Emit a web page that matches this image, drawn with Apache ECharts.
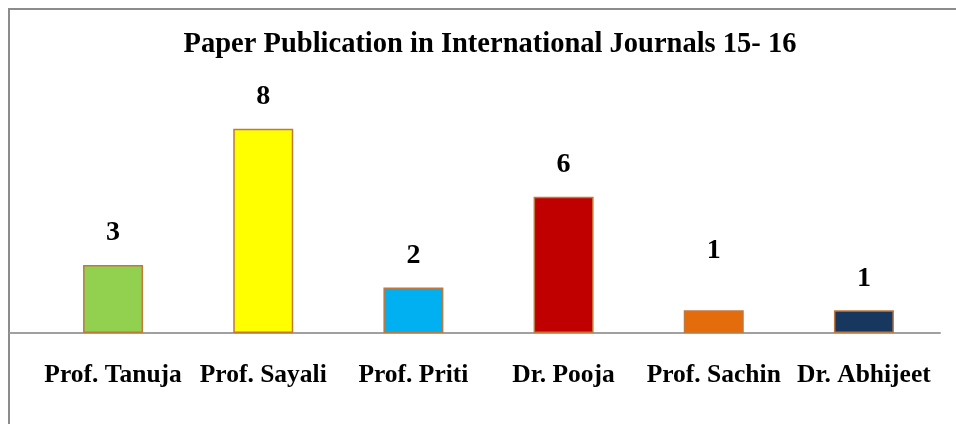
<!DOCTYPE html>
<html>
<head>
<meta charset="utf-8">
<script src="https://cdn.jsdelivr.net/npm/echarts@6/dist/echarts.min.js"></script>
<style>
html, body { margin: 0; padding: 0; background: #fff; }
#chart { width: 956px; height: 424px; }
</style>
</head>
<body>
<div id="chart"></div>
<script>
var names = ['Prof. Tanuja', 'Prof. Sayali', 'Prof. Priti', 'Dr. Pooja', 'Prof. Sachin', 'Dr. Abhijeet'];
// printed labels
var counts = [3, 8, 2, 6, 1, 1];
// bar heights as drawn (the Sayali bar is drawn taller than its label)
var heights = [3, 9, 2, 6, 1, 1];
var colors = ['#92D050', '#FFFF00', '#00B0F0', '#C00000', '#E46C0A', '#17375E'];

var font = '"Liberation Serif", "Times New Roman", serif';

var barData = [];
for (var i = 0; i < names.length; i++) {
    var item = {
        value: heights[i],
        itemStyle: { color: colors[i] },
        label: { formatter: String(counts[i]) }
    };
    if (i === 4) {
        item.label.distance = 46; // label sits higher on this one
    }
    barData.push(item);
}

var myChart = echarts.init(document.getElementById('chart'));
var option = {
    animation: false,
    title: {
        text: 'Paper Publication in International Journals 15- 16',
        left: 485,
        textAlign: 'center',
        top: 25,
        textStyle: { fontFamily: font, fontSize: 28.5, fontWeight: 'bold', color: '#000' }
    },
    graphic: [{
        type: 'rect',
        shape: { x: 9, y: 9, width: 980, height: 440 },
        style: { fill: 'none', stroke: '#8c8c8c', lineWidth: 2 },
        silent: true
    }],
    grid: [
        { left: 38, right: 17, top: 106, bottom: 91 },
        { left: 10, right: 16, top: 106, bottom: 91 }
    ],
    xAxis: [{
        type: 'category',
        data: names,
        gridIndex: 0,
        axisLine: { show: false },
        axisTick: { show: false },
        axisLabel: {
            interval: 0,
            margin: 29,
            fontFamily: font, fontSize: 25.5, fontWeight: 'bold', color: '#000'
        }
    }, {
        type: 'value',
        gridIndex: 1,
        min: 0, max: 1,
        axisLine: { show: true, onZero: false, lineStyle: { color: '#a0a0a0', width: 2 } },
        axisTick: { show: false },
        axisLabel: { show: false },
        splitLine: { show: false }
    }],
    yAxis: [{
        type: 'value',
        gridIndex: 0,
        min: 0, max: 10,
        show: false,
        splitLine: { show: false }
    }, {
        type: 'value',
        gridIndex: 1,
        min: 0, max: 1,
        show: false
    }],
    series: [{
        type: 'bar',
        xAxisIndex: 0,
        yAxisIndex: 0,
        barWidth: 60,
        data: barData,
        itemStyle: { borderColor: '#C0783C', borderWidth: 1.5 },
        label: {
            show: true,
            position: 'top',
            distance: 18,
            fontFamily: font, fontSize: 28, fontWeight: 'bold', color: '#000'
        }
    }]
};
myChart.setOption(option);
</script>
</body>
</html>
